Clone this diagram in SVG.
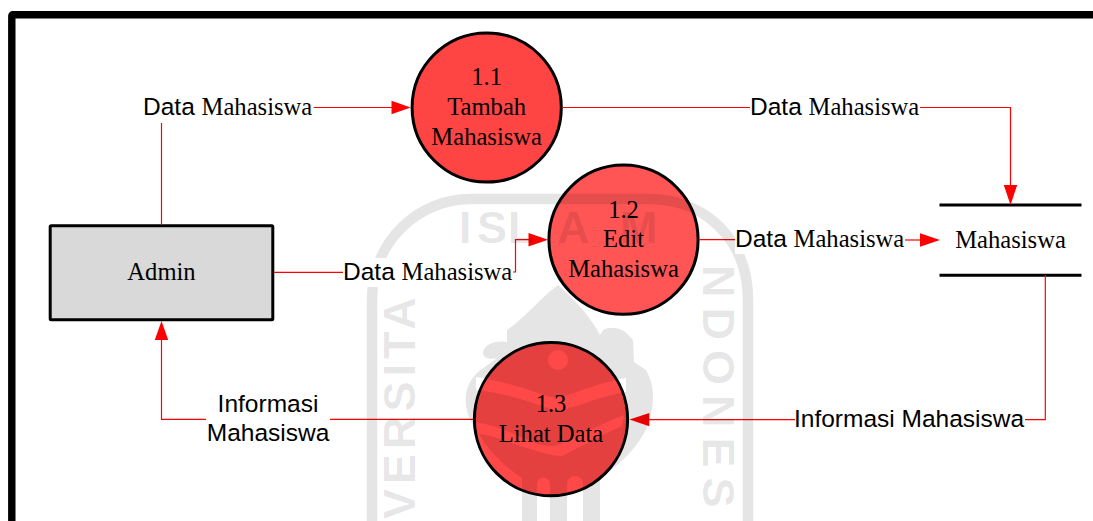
<svg xmlns="http://www.w3.org/2000/svg" width="1093" height="521" viewBox="0 0 1093 521">
<style>
.t{font-family:"Liberation Serif","Times New Roman",serif;font-size:24.6px;fill:#000;text-anchor:middle}
.l{font-family:"Liberation Sans",Arial,sans-serif;font-size:24.5px;fill:#000}
.s{font-family:"Liberation Serif","Times New Roman",serif;font-size:24.6px}
.c{fill:none;stroke:#f00;stroke-width:1.2}
.a{fill:#f00;stroke:none}
.n{stroke:#000;stroke-width:3}
.w{font-family:"Liberation Sans",Arial,sans-serif;font-weight:700;font-size:45px;fill:#000;fill-opacity:.1}
</style>
<rect width="1093" height="521" fill="#fff"/>
<rect id="frame" x="11.8" y="14.7" width="1200" height="600" rx="1" fill="none" stroke="#000" stroke-width="7.4"/>

<g id="node-admin">
<rect x="50.2" y="225.7" width="222.6" height="94" rx="1" fill="#d9d9d9" stroke="#000" stroke-width="3"/>
<text class="t" x="161.5" y="280">Admin</text>
</g>
<g id="node-1-1">
<circle class="n" cx="486.7" cy="107.5" r="74.6" fill="#ff4444"/>
<text class="t" x="486.7" y="85">1.1</text>
<text class="t" x="486.7" y="115">Tambah</text>
<text class="t" x="486.7" y="145">Mahasiswa</text>
</g>
<g id="node-1-2">
<circle class="n" cx="623.5" cy="239.7" r="74.6" fill="#ff5555"/>
<text class="t" x="623.5" y="218">1.2</text>
<text class="t" x="623.5" y="247">Edit</text>
<text class="t" x="623.5" y="277">Mahasiswa</text>
</g>
<g id="node-1-3">
<circle class="n" cx="551" cy="419.2" r="76.6" fill="#ff4848"/>
<text class="t" x="551" y="412">1.3</text>
<text class="t" x="551" y="442">Lihat Data</text>
</g>
<g id="node-store">
<path d="M939.5 205H1081.5M939.5 275.3H1081.5" fill="none" stroke="#000" stroke-width="3"/>
<text class="t" x="1010.5" y="248">Mahasiswa</text>
</g>

<g id="connectors">
<path class="c" d="M161.5 225V123"/>
<path class="c" d="M313.5 107.5H393"/>
<polygon class="a" points="410.7,107.5 391.5,100.8 391.5,114.2"/>
<path class="c" d="M562 107.5H750"/>
<path class="c" d="M920 107.5H1010.5V187"/>
<polygon class="a" points="1010.5,205 1003.8,185 1017.2,185"/>
<path class="c" d="M274 272.3H343"/>
<path class="c" d="M513 272H515.5V239.7H530"/>
<polygon class="a" points="548,239.7 528.5,233 528.5,246.4"/>
<path class="c" d="M699 239.7H735"/>
<path class="c" d="M905 240H922"/>
<polygon class="a" points="940,240 920,233.3 920,246.7"/>
<path class="c" d="M1045.3 275V419.6H1025"/>
<path class="c" d="M795 419.6H648"/>
<polygon class="a" points="629.5,419.6 649.3,412.9 649.3,426.3"/>
<path class="c" d="M473 419.3H330"/>
<path class="c" d="M206 419.3H161.5V339"/>
<polygon class="a" points="161.5,321 154.8,340 168.2,340"/>
</g>

<g id="watermark">
<path d="M372 530V300C372 240 420 199 470 199H650C705 199 748 240 748 300V530" fill="none" stroke="#000" stroke-opacity=".1" stroke-width="10.5"/>
<path fill="#000" fill-opacity=".1" fill-rule="evenodd" d="M558 285C540 298 525 318 507 330L507 342C495 340 483 345 483 353C483 358 490 360 497 358L478 372C463 385 460 410 478 432C490 455 510 470 522 478V521H600V478C620 465 640 445 648 425C656 400 654 385 646 370L634 362L633 340C625 328 612 325 603 330L600 335C590 315 570 295 558 285Z
M476 377C495 380 515 385 535 392C548 397 555 398 560 397C575 394 600 382 626 378L626 392C600 396 575 408 560 410C550 410 540 405 530 402C512 396 495 392 476 390Z
M475 422C495 425 510 432 530 441C542 446 552 448 560 444C575 436 600 425 624 415L622 426C600 436 578 448 562 456C550 456 535 450 520 446C505 440 490 435 475 433Z
M548 360a10 10 0 1 0 20 0a10 10 0 1 0-20 0Z
M537 484a6.500 6.500 0 0 1 13 0V521H537Z
M567 484a8 8 0 0 1 16 0V521H567Z"/>
<text class="w" x="459 477 508 557 620" y="243">ISLAM</text>
<text class="w" transform="translate(415 519) rotate(-90)" letter-spacing="5">VERSITA</text>
<text class="w" transform="translate(703 265) rotate(90)" letter-spacing="10">NDONES</text>
</g>

<g id="labels">
<rect x="143" y="92" width="170" height="29" fill="#fff"/>
<text class="l" x="143" y="115">Data <tspan class="s">Mahasiswa</tspan></text>
<rect x="750" y="92" width="170" height="29" fill="#fff"/>
<text class="l" x="750" y="115">Data <tspan class="s">Mahasiswa</tspan></text>
<rect x="343" y="258" width="170" height="29" fill="#fff"/>
<text class="l" x="343" y="280">Data <tspan class="s">Mahasiswa</tspan></text>
<rect x="735" y="225" width="170" height="29" fill="#fff"/>
<text class="l" x="735" y="247">Data <tspan class="s">Mahasiswa</tspan></text>
<rect x="795" y="405" width="230" height="29" fill="#fff"/>
<text class="l" x="794" y="427">Informasi Mahasiswa</text>
<rect x="206" y="390" width="124" height="58" fill="#fff"/>
<text class="l" x="268" y="412" text-anchor="middle">Informasi</text>
<text class="l" x="268" y="441" text-anchor="middle">Mahasiswa</text>
</g>
</svg>
